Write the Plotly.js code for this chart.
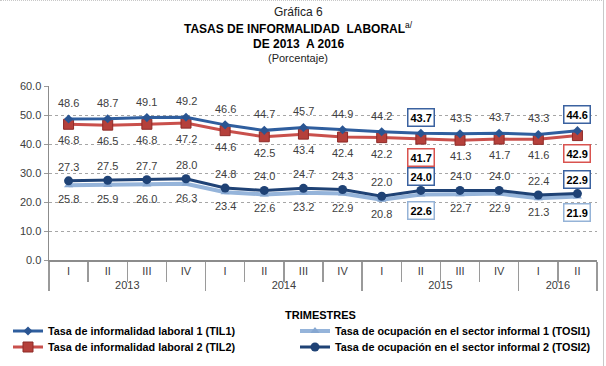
<!DOCTYPE html>
<html>
<head>
<meta charset="utf-8">
<script src="https://cdn.plot.ly/plotly-3.0.1.min.js"></script>
<style>
html,body{margin:0;padding:0;background:#fff;}
#chart{width:606px;height:366px;position:relative;}
#frame{position:absolute;left:603px;top:0;width:1px;height:366px;background:#c8c8c8;}
#topframe{position:absolute;left:0;top:0;width:604px;height:0;border-top:1px dotted #c8c8c8;}
</style>
</head>
<body>
<div id="chart"></div>
<div id="frame"></div>
<div id="topframe"></div>
<script>
// ---- data ----
const years = ['2013','2013','2013','2013','2014','2014','2014','2014','2015','2015','2015','2015','2016','2016'];
const quarters = ['I','II','III','IV','I','II','III','IV','I','II','III','IV','I','II'];
const til1 = [48.6, 48.7, 49.1, 49.2, 46.6, 44.7, 45.7, 44.9, 44.2, 43.7, 43.5, 43.7, 43.3, 44.6];
const til2 = [46.8, 46.5, 46.8, 47.2, 44.6, 42.5, 43.4, 42.4, 42.2, 41.7, 41.3, 41.7, 41.6, 42.9];
const tosi1 = [25.8, 25.9, 26.0, 26.3, 23.4, 22.6, 23.2, 22.9, 20.8, 22.6, 22.7, 22.9, 21.3, 21.9];
const tosi2 = [27.3, 27.5, 27.7, 28.0, 24.8, 24.0, 24.7, 24.3, 22.0, 24.0, 24.0, 24.0, 22.4, 22.9];
const names = {
  til1: 'Tasa de informalidad laboral 1 (TIL1)',
  til2: 'Tasa de informalidad laboral 2 (TIL2)',
  tosi1: 'Tasa de ocupación en el sector informal 1 (TOSI1)',
  tosi2: 'Tasa de ocupación en el sector informal 2 (TOSI2)'
};
const highlighted = [9, 13]; // points whose labels are boxed

// ---- styles ----
const FONT = 'Liberation Sans, Arial, sans-serif';
const xcat = [years, quarters];
const C = {
  til1: '#2F5E9E', til2: '#C9504C', tosi1: '#95B4DA', tosi2: '#1F4275'
};

// plot area spans 86..260 px vertically
const py = p => (260 - p) / 174;
const pxp = p => (p - 49) / 548;

const traces = [
  {name: names.tosi1, y: tosi1, legend: 'legend2', line: {color: C.tosi1, width: 4},
   marker: {symbol: 'triangle-up', size: 8, color: '#86A7D1'}},
  {name: names.tosi2, y: tosi2, legend: 'legend4', line: {color: C.tosi2, width: 3},
   marker: {symbol: 'circle', size: 9, color: '#1F4275'}},
  {name: names.til2, y: til2, legend: 'legend3', line: {color: C.til2, width: 3},
   marker: {symbol: 'square', size: 10, color: '#B5403B', line: {color: '#8E2A27', width: 1}}},
  {name: names.til1, y: til1, legend: 'legend', line: {color: C.til1, width: 3},
   marker: {symbol: 'diamond', size: 7, color: '#2A5592'}}
].map(t => Object.assign({type: 'scatter', mode: 'lines+markers', x: xcat}, t));

const annotations = [];
function addLabels(vals, shift, boxColor) {
  vals.forEach((v, i) => {
    const boxed = highlighted.indexOf(i) >= 0;
    const a = {
      x: i, y: v, xref: 'x', yref: 'y', text: v.toFixed(1), showarrow: false,
      yshift: shift, yanchor: 'middle',
      font: {family: FONT, size: 11, color: boxed ? '#000' : '#404040', weight: boxed ? 'bold' : 'normal'}
    };
    if (boxed) {
      a.bordercolor = boxColor; a.borderwidth = 1.5; a.borderpad = 2; a.bgcolor = '#fff';
      a.yshift = shift + (shift > 0 ? 0 : -2);
    }
    annotations.push(a);
  });
}
addLabels(til1, 16, '#3B62A0');
addLabels(til2, -16, '#D9534F');
addLabels(tosi2, 14, '#3B62A0');
addLabels(tosi1, -14, '#95B3D7');

const tx = pxp(298);
const T = (y, text, size, color) => ({xref: 'paper', yref: 'paper', x: tx, y: py(y), xanchor: 'center', yanchor: 'middle',
  text: text, showarrow: false, font: {family: FONT, size: size, color: color}});
annotations.push(
  T(12, 'Gráfica 6', 12, '#222'),
  T(28, '<b>TASAS DE INFORMALIDAD  LABORAL</b><sup>a/</sup>', 12, '#000'),
  T(44, '<b>DE 2013  A 2016</b>', 12, '#000'),
  T(58, '(Porcentaje)', 11, '#222'),
  {xref: 'paper', yref: 'paper', x: pxp(320), y: py(315), xanchor: 'center', yanchor: 'middle',
   text: '<b>TRIMESTRES</b>', showarrow: false, font: {family: FONT, size: 11, color: '#000'}}
);

const L = (xp, yp, size) => ({
  orientation: 'v', x: pxp(xp), xanchor: 'left', y: py(yp), yanchor: 'middle',
  font: {family: FONT, size: size, color: '#000', weight: 'bold'},
  bgcolor: 'rgba(0,0,0,0)', borderwidth: 0
});

const layout = {
  width: 606, height: 366,
  margin: {l: 49, r: 9, t: 86, b: 106, autoexpand: false},
  paper_bgcolor: '#fff', plot_bgcolor: '#fff',
  showlegend: true,
  legend: L(8, 331, 10.8),
  legend3: L(8, 347, 10.8),
  legend2: L(295, 331, 10.8),
  legend4: L(295, 347, 10.8),
  xaxis: {
    type: 'multicategory', range: [-0.5, 13.5], automargin: false,
    showline: true, linecolor: '#8C8C8C', linewidth: 1.5,
    ticks: 'outside', tickson: 'boundaries', ticklen: 20, tickcolor: '#9A9A9A', tickwidth: 1.5,
    showdividers: true, dividercolor: '#9A9A9A', dividerwidth: 1.5,
    tickfont: {family: FONT, size: 11, color: '#404040'},
    showgrid: false, fixedrange: true
  },
  yaxis: {
    range: [0, 60], dtick: 10, tickformat: '.1f', automargin: false,
    showline: true, linecolor: '#8C8C8C', linewidth: 1.5,
    ticks: 'outside', ticklen: 4, tickcolor: '#9A9A9A',
    showgrid: true, gridcolor: '#A6A6A6', griddash: '3px,3px', gridwidth: 1,
    zeroline: false,
    tickfont: {family: FONT, size: 11, color: '#404040'}
  },
  annotations: annotations
};

Plotly.newPlot('chart', traces, layout, {staticPlot: true});
</script>
</body>
</html>
